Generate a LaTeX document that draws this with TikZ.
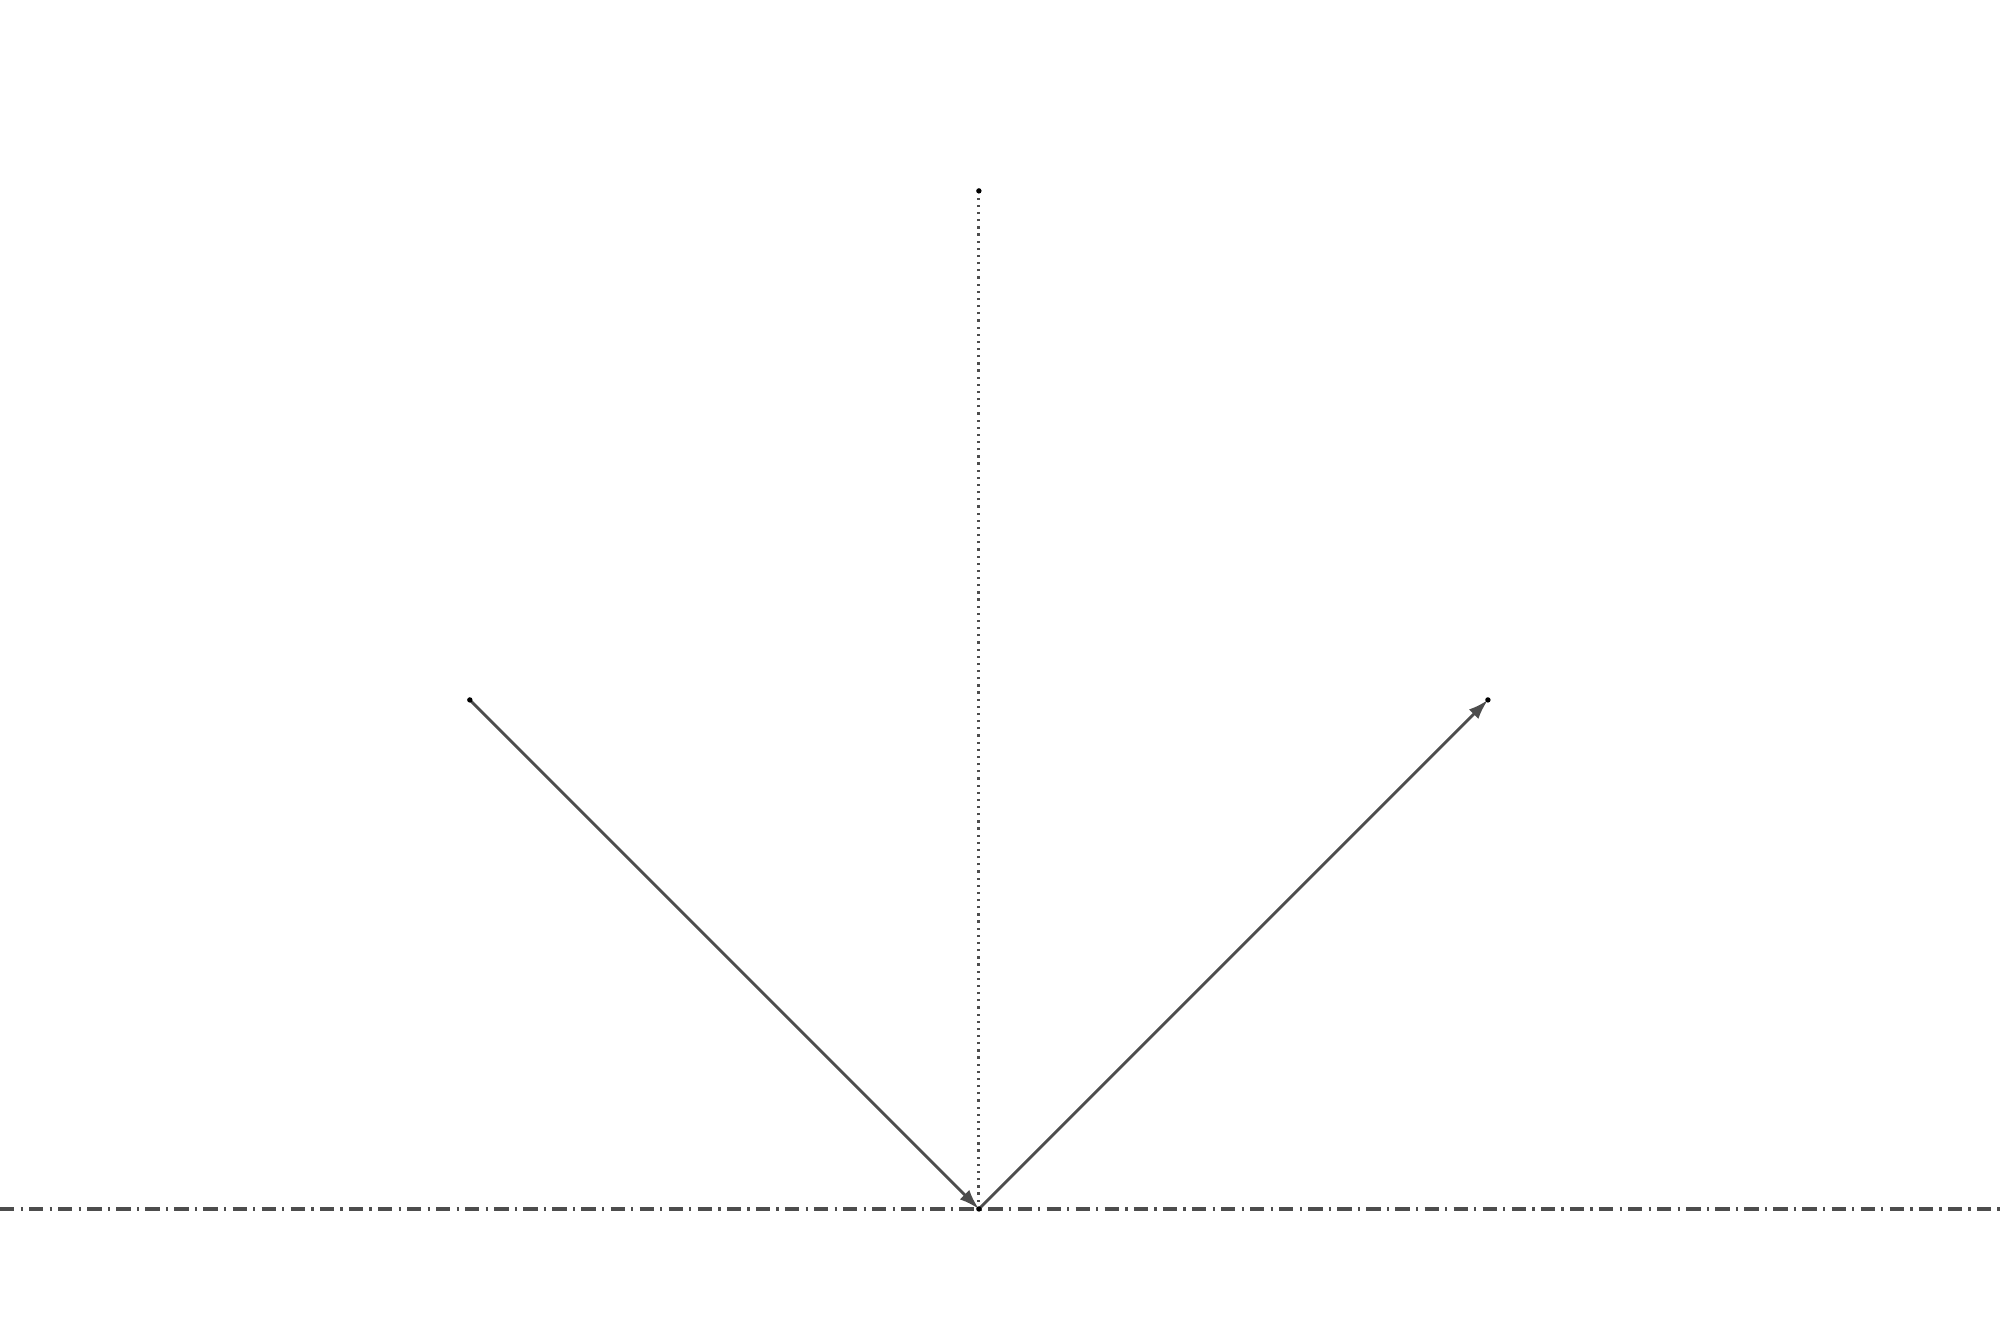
\documentclass[tikz,border=0pt]{standalone}
\usetikzlibrary{arrows.meta}
\definecolor{trait}{HTML}{4D4D4D}
\begin{document}
\begin{tikzpicture}[x=4cm,y=4cm]
\pgfmathsetmacro{\xmin}{-1.923}
\pgfmathsetmacro{\xmax}{2.006}
\pgfmathsetmacro{\ymin}{-0.244}
\pgfmathsetmacro{\ymax}{2.375}
\useasboundingbox (\xmin,\ymin) rectangle (\xmax,\ymax);
  \coordinate (O) at (0,0);
  \coordinate (N) at (0,2);
  \coordinate (A) at (-1,1);
  \coordinate (B) at (1,1);
  \coordinate (G) at (\xmin,0);
  \coordinate (D) at (\xmax,0);
  % miroir
  \draw[color=trait,line width=0.7pt,dash pattern=on 3.2pt off 1.4pt on 0.5pt off 1.4pt] (G) -- (D);
  % normale
  \draw[color=trait,line width=0.7pt,dash pattern=on 0.5pt off 1.1pt] (O) -- (N);
  % rayons
  \draw[-{Latex[length=4.5pt,width=3pt]},color=trait,line width=0.65pt] (A) -- (O);
  \draw[-{Latex[length=4.5pt,width=3pt]},color=trait,line width=0.65pt] (O) -- (B);
  \foreach \p in {O,N,A,B}
    \fill (\p) circle (0.6pt);
\end{tikzpicture}
\end{document}
